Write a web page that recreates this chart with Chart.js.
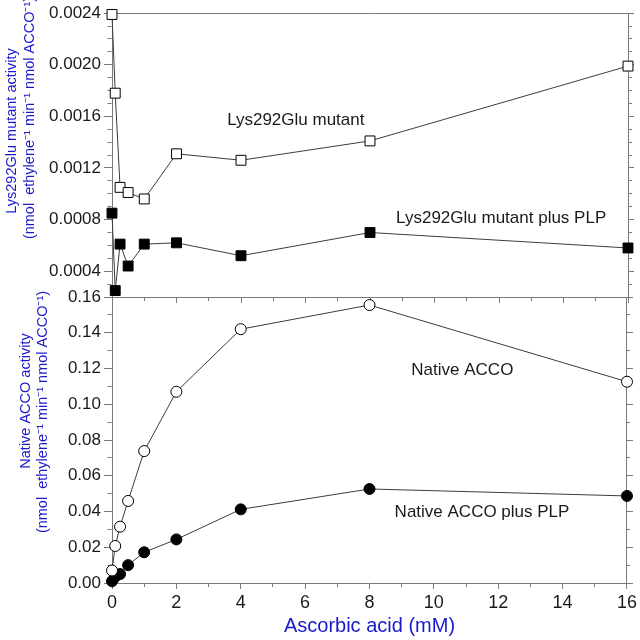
<!DOCTYPE html>
<html><head><meta charset="utf-8">
<script src="https://cdn.jsdelivr.net/npm/chart.js@4.4.1/dist/chart.umd.min.js"></script>
<style>
html,body{margin:0;padding:0;background:#fff;}
#wrap{position:relative;width:640px;height:640px;}
canvas{position:absolute;left:0;top:0;}
</style></head><body>
<div id="wrap"><canvas id="topPanel" width="640" height="640"></canvas><canvas id="bottomPanel" width="640" height="640"></canvas></div>
<script>
// ---- data ----
const ascorbicAcid = [0, 0.1, 0.25, 0.5, 1, 2, 4, 8, 16];
const mutantActivity = [0.00239, 0.00178, 0.00105, 0.00101, 0.00096, 0.00131, 0.00126, 0.00141, 0.00199];
const mutantPlpActivity = [0.00085, 0.00025, 0.00061, 0.00044, 0.00061, 0.00062, 0.00052, 0.00070, 0.00058];
const nativeActivity = [0.0070, 0.0207, 0.0315, 0.0459, 0.0738, 0.1070, 0.1420, 0.1555, 0.1126];
const nativePlpActivity = [0.0010, 0.0035, 0.0050, 0.0100, 0.0172, 0.0244, 0.0412, 0.0526, 0.0487];
const seriesNames = ['Lys292Glu mutant', 'Lys292Glu mutant plus PLP', 'Native ACCO', 'Native ACCO plus PLP'];
const xTickLabels = ['0','2','4','6','8','10','12','14','16'];
const mutantTickLabels = ['0.0004','0.0008','0.0012','0.0016','0.0020','0.0024'];
const nativeTickLabels = ['0.00','0.02','0.04','0.06','0.08','0.10','0.12','0.14','0.16'];
const xTitle = 'Ascorbic acid (mM)';
const mutantTitle = ['Lys292Glu mutant activity', '(nmol  ethylene\u207B\u00B9 min\u207B\u00B9 nmol ACCO\u207B\u00B9)'];
const nativeTitle = ['Native ACCO activity', '(nmol  ethylene\u207B\u00B9 min\u207B\u00B9 nmol ACCO\u207B\u00B9)'];

// ---- styling ----
const FONT = '"Liberation Sans", Arial, sans-serif';
const AXIS = '#7a7a7a', INK = '#1a1a1a', BLUE = '#1a1acc', LINE = '#3c3c3c';
Chart.defaults.font.family = FONT;

const labelFor = (list, v) => list.find(l => Math.abs(parseFloat(l) - v) < 1e-9) || '';
const pts = ys => ascorbicAcid.map((x, i) => ({x, y: ys[i]}));

const notesPlugin = {
  id: 'notes',
  afterDatasetsDraw(chart, args, opts) {
    const ctx = chart.ctx, sx = chart.scales.x, sy = chart.scales.y;
    ctx.save();
    ctx.font = '17px ' + FONT;
    ctx.fillStyle = INK;
    ctx.textAlign = 'left';
    ctx.textBaseline = 'alphabetic';
    (opts.items || []).forEach(it => ctx.fillText(it.text, sx.getPixelForValue(it.x), sy.getPixelForValue(it.y)));
    ctx.restore();
  }
};
const yTitlePlugin = {
  id: 'yTitleLines',
  afterDraw(chart, args, opts) {
    const ctx = chart.ctx;
    const lines = chart.options.scales.y.title.text;
    ctx.save();
    ctx.font = '14.5px ' + FONT;
    ctx.fillStyle = BLUE;
    ctx.textAlign = 'center';
    ctx.textBaseline = 'middle';
    lines.forEach((t, i) => {
      ctx.save();
      ctx.translate(opts.x[i], opts.y[i]);
      ctx.rotate(-Math.PI / 2);
      ctx.fillText(t, 0, 0);
      ctx.restore();
    });
    ctx.restore();
  }
};

function xScale(showLabels, height) {
  return {
    type: 'linear', axis: 'x', position: 'bottom', min: 0, max: 16,
    ticks: {display: showLabels, stepSize: 1, autoSkip: false, maxRotation: 0, maxTicksLimit: 100, padding: 3,
            color: INK, font: {size: 18}, callback: v => labelFor(xTickLabels, v)},
    grid: {drawOnChartArea: false, tickLength: 6, tickColor: AXIS,
           tickBorderDash: c => labelFor(xTickLabels, c.tick.value) ? [] : [3, 100]},
    border: {color: AXIS},
    title: {display: showLabels, text: xTitle, color: BLUE, font: {size: 20}, padding: {top: 0, bottom: 2}},
    afterFit: s => { s.height = height; }
  };
}
function yLeft(min, max, step, labels, title) {
  return {
    type: 'linear', axis: 'y', position: 'left', min, max,
    ticks: {stepSize: step, autoSkip: false, maxTicksLimit: 100, padding: 3, color: INK, font: {size: 17},
            callback: v => labelFor(labels, v)},
    grid: {drawOnChartArea: false, tickLength: 8, tickColor: AXIS,
           tickBorderDash: c => labelFor(labels, c.tick.value) ? [] : [0, 3.5, 4, 100]},
    border: {color: AXIS},
    title: {display: false, text: title},
    afterFit: s => { s.width = 112; }
  };
}
function yRight(min, max, step, labels) {
  return {
    type: 'linear', axis: 'y', position: 'right', min, max,
    ticks: {display: false, stepSize: step, autoSkip: false, maxTicksLimit: 100},
    grid: {drawOnChartArea: false, tickLength: 6, tickColor: AXIS,
           tickBorderDash: c => labelFor(labels, c.tick.value) ? [] : [3, 100]},
    border: {color: AXIS},
    afterFit: s => { s.width = 12; }
  };
}
function series(name, ys, style, fill, radius) {
  return {
    label: name, data: pts(ys), xAxisID: 'x', yAxisID: 'y', clip: false,
    borderColor: LINE, borderWidth: 1, tension: 0,
    pointStyle: style, pointRadius: radius, pointBackgroundColor: fill,
    pointBorderColor: '#000', pointBorderWidth: 1
  };
}
const common = {responsive: false, animation: false, events: [], devicePixelRatio: 1};

new Chart(document.getElementById('topPanel'), {
  type: 'line',
  data: {datasets: [
    series(seriesNames[0], mutantActivity, 'rect', '#fff', 7),
    series(seriesNames[1], mutantPlpActivity, 'rect', '#000', 7)
  ]},
  options: Object.assign({}, common, {
    layout: {padding: {top: 12, left: 0, right: 0, bottom: 0}},
    plugins: {
      legend: {display: false}, tooltip: {enabled: false},
      notes: {items: [
        {text: seriesNames[0], x: 3.57, y: 0.001535},
        {text: seriesNames[1], x: 8.81, y: 0.000771}
      ]},
      yTitleLines: {x: [12, 30], y: [131, 118]}
    },
    scales: {
      x: xScale(false, 343),
      xt: {type: 'linear', axis: 'x', position: 'top', min: 0, max: 16,
           ticks: {display: false}, grid: {drawOnChartArea: false, drawTicks: false},
           border: {color: AXIS}, afterFit: s => { s.height = 0; }},
      y: yLeft(0.0002, 0.0024, 0.0001, mutantTickLabels, mutantTitle),
      yr: yRight(0.0002, 0.0024, 0.0001, mutantTickLabels)
    }
  }),
  plugins: [notesPlugin, yTitlePlugin]
});

new Chart(document.getElementById('bottomPanel'), {
  type: 'line',
  data: {datasets: [
    series(seriesNames[2], nativeActivity, 'circle', '#fff', 5.5),
    series(seriesNames[3], nativePlpActivity, 'circle', '#000', 5.5)
  ]},
  options: Object.assign({}, common, {
    layout: {padding: {top: 297, left: 0, right: 0, bottom: 0}},
    plugins: {
      legend: {display: false}, tooltip: {enabled: false},
      notes: {items: [
        {text: seriesNames[2], x: 9.30, y: 0.1164},
        {text: seriesNames[3], x: 8.78, y: 0.0369}
      ]},
      yTitleLines: {x: [26, 43], y: [401, 412]}
    },
    scales: {
      x: xScale(true, 57),
      y: yLeft(0, 0.16, 0.01, nativeTickLabels, nativeTitle),
      yr: yRight(0, 0.16, 0.01, nativeTickLabels)
    }
  }),
  plugins: [notesPlugin, yTitlePlugin]
});
</script>
</body></html>
